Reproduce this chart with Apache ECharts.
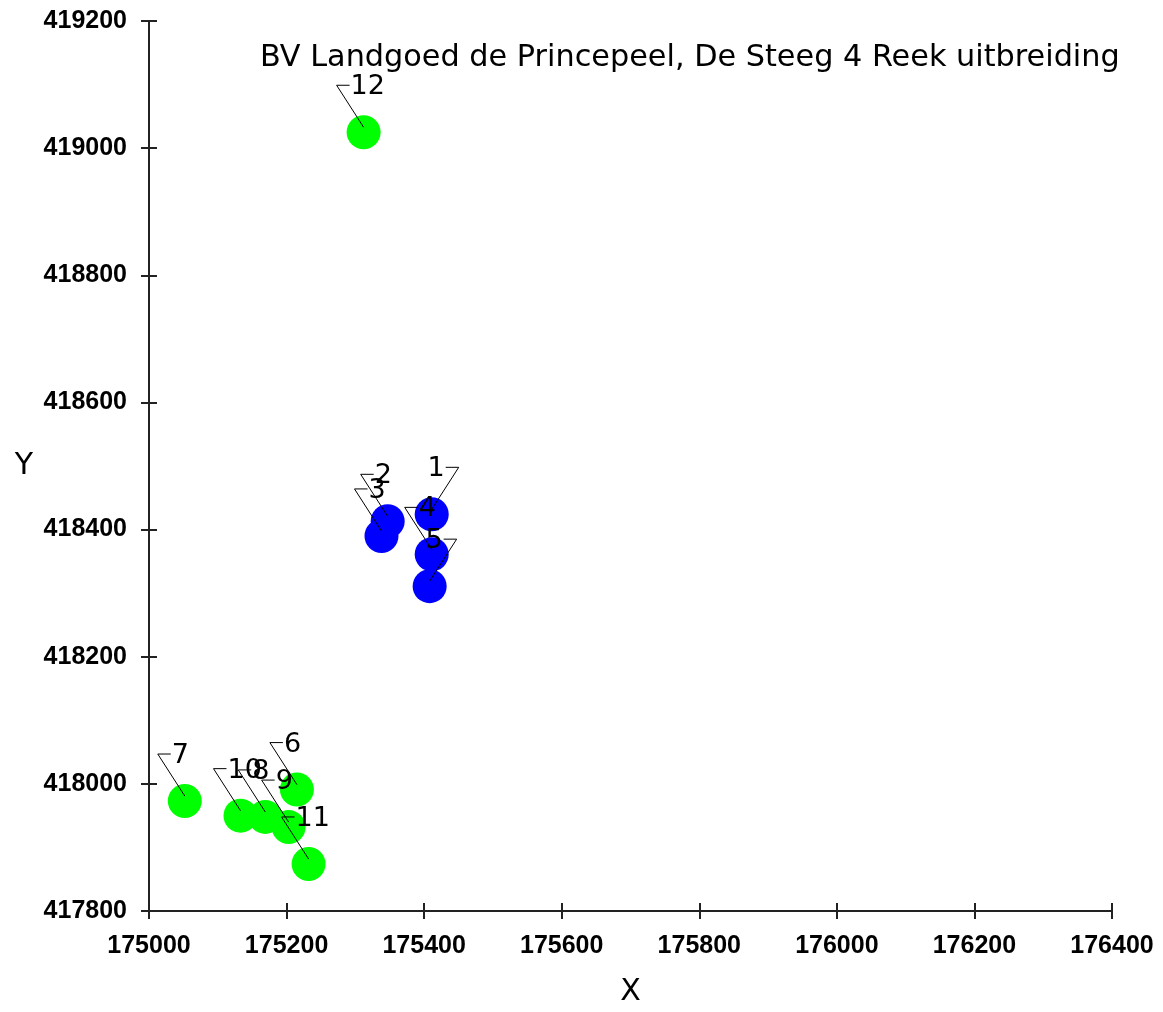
<!DOCTYPE html>
<html>
<head>
<meta charset="utf-8">
<script src="https://cdn.jsdelivr.net/npm/echarts@6/dist/echarts.min.js"></script>
<style>
  html, body { margin: 0; padding: 0; background: #fff; }
  #chart { width: 1163px; height: 1012px; }
</style>
</head>
<body>
<div id="chart"></div>
<script>
// point ids, coordinates (X / Y) and group
const pointIds = ['1', '2', '3', '4', '5', '6', '7', '8', '9', '10', '11', '12'];
const xValues = [175411, 175347, 175338, 175411, 175408, 175215, 175052, 175169, 175203, 175133, 175232, 175312];
const yValues = [418424, 418413, 418390, 418361, 418311, 417991, 417973, 417948, 417932, 417950, 417874, 419025];
const groupOf = ['blue', 'blue', 'blue', 'blue', 'blue', 'green', 'green', 'green', 'green', 'green', 'green', 'green'];

// which side the label sits on (R = leader goes up-right, L = up-left)
const labelSide = ['R', 'L', 'L', 'L', 'R', 'L', 'L', 'L', 'L', 'L', 'L', 'L'];

const xTicks = [175000, 175200, 175400, 175600, 175800, 176000, 176200, 176400];
const yTicks = [417800, 418000, 418200, 418400, 418600, 418800, 419000, 419200];

const titleText = 'BV Landgoed de Princepeel, De Steeg 4 Reek uitbreiding';

const colors = { blue: '#0000ff', green: '#00ff00' };

const blueData = [];
const greenData = [];
const labelData = [];
pointIds.forEach((id, i) => {
  const d = [xValues[i], yValues[i], i];
  if (groupOf[i] === 'blue') blueData.push(d); else greenData.push(d);
  labelData.push(d);
});

const chart = echarts.init(document.getElementById('chart'));

const tickLabelStyle = {
  color: '#000',
  fontFamily: 'Liberation Sans',
  fontWeight: 'bold',
  fontSize: 25,
  formatter: v => String(v)
};

const lineStyle = { color: '#222', width: 2 };

function makeAxis(kind, main) {
  const ticks = kind === 'x' ? xTicks : yTicks;
  return {
    type: 'value',
    position: kind === 'x' ? 'bottom' : 'left',
    min: ticks[0],
    max: ticks[ticks.length - 1],
    interval: ticks[1] - ticks[0],
    splitLine: { show: false },
    axisLine: { show: main, onZero: false, lineStyle: lineStyle },
    axisTick: { show: true, inside: !main, length: 8, lineStyle: { color: '#222', width: 2 } },
    axisLabel: main ? Object.assign({ margin: kind === 'x' ? 23 : 22 }, tickLabelStyle) : { show: false },
    name: main ? (kind === 'x' ? 'X' : 'Y') : '',
    nameLocation: 'middle',
    nameRotate: 0,
    nameGap: kind === 'x' ? 66 : 116,
    nameTextStyle: { color: '#000', fontFamily: 'DejaVu Sans', fontSize: 30 }
  };
}

const option = {
  animation: false,
  backgroundColor: '#fff',
  title: {
    text: titleText,
    left: 255,
    top: 38,
    textStyle: { color: '#000', fontFamily: 'DejaVu Sans', fontWeight: 'normal', fontSize: 30.3 }
  },
  grid: { left: 149, right: 51, top: 21, bottom: 100 },
  xAxis: [makeAxis('x', true), makeAxis('x', false)],
  yAxis: [makeAxis('y', true), makeAxis('y', false)],
  series: [
    {
      type: 'scatter',
      data: blueData,
      symbol: 'circle',
      symbolSize: 34,
      itemStyle: { color: colors.blue, opacity: 1 },
      z: 2
    },
    {
      type: 'scatter',
      data: greenData,
      symbol: 'circle',
      symbolSize: 34,
      itemStyle: { color: colors.green, opacity: 1 },
      z: 2
    },
    {
      type: 'custom',
      data: labelData,
      z: 5,
      silent: true,
      renderItem: function (params, api) {
        const i = api.value(2);
        const p = api.coord([api.value(0), api.value(1)]);
        const s = labelSide[i] === 'R' ? 1 : -1;
        const elbow = [p[0] + s * 27, p[1] - 47];
        const stubEnd = [elbow[0] - s * 13, elbow[1]];
        return {
          type: 'group',
          children: [
            {
              type: 'polyline',
              shape: { points: [[p[0], p[1] - 5], elbow, stubEnd] },
              style: { stroke: '#000', lineWidth: 1, fill: null }
            },
            {
              type: 'text',
              style: {
                text: pointIds[i],
                x: stubEnd[0] - s * 1,
                y: elbow[1] + 2,
                textAlign: s > 0 ? 'right' : 'left',
                textVerticalAlign: 'middle',
                fill: '#000',
                font: '27px "DejaVu Sans"'
              }
            }
          ]
        };
      }
    }
  ]
};

chart.setOption(option);
</script>
</body>
</html>
